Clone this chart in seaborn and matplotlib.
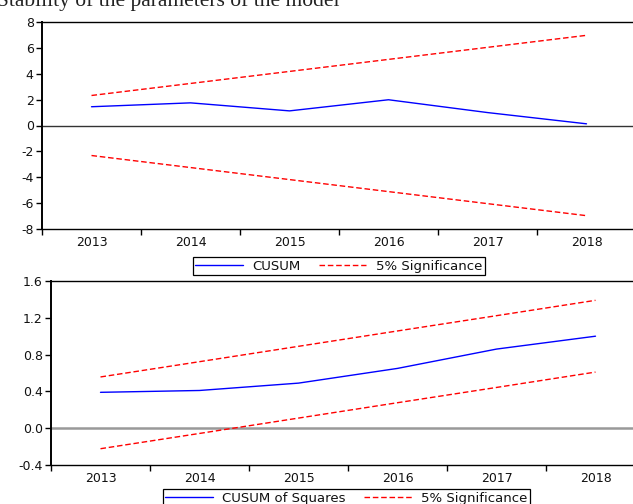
import matplotlib
matplotlib.use("Agg")
import matplotlib.pyplot as plt
from matplotlib.lines import Line2D
import numpy as np
import pandas as pd
import seaborn as sns

# Recursive-residual stability tests (CUSUM and CUSUM of squares)
years = [2013, 2014, 2015, 2016, 2017, 2018]
year_labels = ["2013", "2014", "2015", "2016", "2017", "2018"]

cusum = [1.45, 1.75, 1.13, 1.99, 1.00, 0.13]
cusum_upper = [2.32, 3.25, 4.18, 5.11, 6.04, 6.97]
cusum_lower = [-2.32, -3.25, -4.18, -5.11, -6.04, -6.97]

cusumsq = [0.39, 0.41, 0.49, 0.65, 0.86, 1.00]
cusumsq_upper = [0.557, 0.723, 0.890, 1.057, 1.223, 1.390]
cusumsq_lower = [-0.223, -0.057, 0.110, 0.277, 0.443, 0.610]

top_yticks = [-8, -6, -4, -2, 0, 2, 4, 6, 8]
bottom_yticks = [-0.4, 0.0, 0.4, 0.8, 1.2, 1.6]

sns.set_theme(style="white")
plt.rcParams["font.family"] = ["DejaVu Sans"]
plt.rcParams["axes.linewidth"] = 1.0

BLUE = "#0000ff"
RED = "#ff0000"
FS = 9

fig = plt.figure(figsize=(6.33, 5.04), dpi=100)
fig.patch.set_facecolor("white")

ax1 = fig.add_axes([42 / 633, 1 - 229 / 504, 594 / 633, 207 / 504])
ax2 = fig.add_axes([51 / 633, 1 - 465 / 504, 594 / 633, 184 / 504])

top = pd.DataFrame({"year": years, "cusum": cusum,
                    "upper": cusum_upper, "lower": cusum_lower})
bot = pd.DataFrame({"year": years, "cusumsq": cusumsq,
                    "upper": cusumsq_upper, "lower": cusumsq_lower})


def style_axes(ax, yticks, ylim, fmt):
    ax.set_facecolor("white")
    ax.set_xlim(2012.5, 2018.5)
    ax.set_ylim(*ylim)
    ax.set_xticks(years)
    ax.set_xticklabels(year_labels)
    ax.set_xticks(np.arange(2012.5, 2018.0, 1.0), minor=True)
    ax.set_yticks(yticks)
    ax.set_yticklabels([fmt(v) for v in yticks])
    ax.tick_params(axis="x", which="major", length=0, labelsize=FS, pad=5,
                   colors="#111111")
    ax.tick_params(axis="x", which="minor", length=4, width=1,
                   direction="out", bottom=True, color="black")
    ax.tick_params(axis="y", which="major", length=4, width=1,
                   direction="out", left=True, labelsize=FS, pad=2,
                   colors="#111111")
    ax.tick_params(axis="y", colors="black", labelcolor="#111111")
    for side in ("left", "top", "bottom"):
        ax.spines[side].set_visible(True)
        ax.spines[side].set_color("black")
    ax.spines["left"].set_linewidth(1.4)
    ax.spines["right"].set_visible(False)
    ax.set_xlabel("")
    ax.set_ylabel("")
    if ax.get_legend() is not None:
        ax.get_legend().remove()


# Top panel: CUSUM with 5% bands
ax1.axhline(0, color="#333333", lw=1.0, zorder=1)
sns.lineplot(data=top, x="year", y="cusum", ax=ax1, color=BLUE, lw=1.0)
sns.lineplot(data=top, x="year", y="upper", ax=ax1, color=RED, lw=1.0,
             linestyle=(0, (4, 2)))
sns.lineplot(data=top, x="year", y="lower", ax=ax1, color=RED, lw=1.0,
             linestyle=(0, (4, 2)))
style_axes(ax1, top_yticks, (-8, 8), lambda v: f"{v:d}")

# Bottom panel: CUSUM of squares with 5% bands
ax2.axhline(0, color="#999999", lw=1.8, zorder=1)
sns.lineplot(data=bot, x="year", y="cusumsq", ax=ax2, color=BLUE, lw=1.0)
sns.lineplot(data=bot, x="year", y="upper", ax=ax2, color=RED, lw=1.0,
             linestyle=(0, (4, 2)))
sns.lineplot(data=bot, x="year", y="lower", ax=ax2, color=RED, lw=1.0,
             linestyle=(0, (4, 2)))
style_axes(ax2, bottom_yticks, (-0.4, 1.6), lambda v: f"{v:.1f}")

# Legends below each panel
h_blue = Line2D([], [], color=BLUE, lw=1.0)
h_red = Line2D([], [], color=RED, lw=1.0, linestyle=(0, (4, 2)))
leg_kw = dict(ncol=2, frameon=True, fancybox=False, shadow=False,
              fontsize=FS + 0.5, handlelength=3.6, handletextpad=0.7,
              columnspacing=1.4, borderpad=0.2, borderaxespad=0.0,
              edgecolor="black", framealpha=1.0)
leg1 = fig.legend([h_blue, h_red], ["CUSUM", "5% Significance"],
                  loc="upper center", bbox_to_anchor=(0.535, 1 - 257 / 504),
                  **leg_kw)
leg2 = fig.legend([h_blue, h_red], ["CUSUM of Squares", "5% Significance"],
                  loc="upper center", bbox_to_anchor=(0.547, 1 - 489 / 504),
                  **leg_kw)
for lg in (leg1, leg2):
    lg.get_frame().set_linewidth(0.9)
    for t in lg.get_texts():
        t.set_color("#111111")

# Caption running across the top edge
fig.text(-0.005, 1 - 6 / 504, "Stability of the parameters of the model",
         ha="left", va="baseline", fontsize=15.5,
         family=["Liberation Serif", "DejaVu Serif"], color="#222222")

fig.savefig("out.png", dpi=100, facecolor="white")
